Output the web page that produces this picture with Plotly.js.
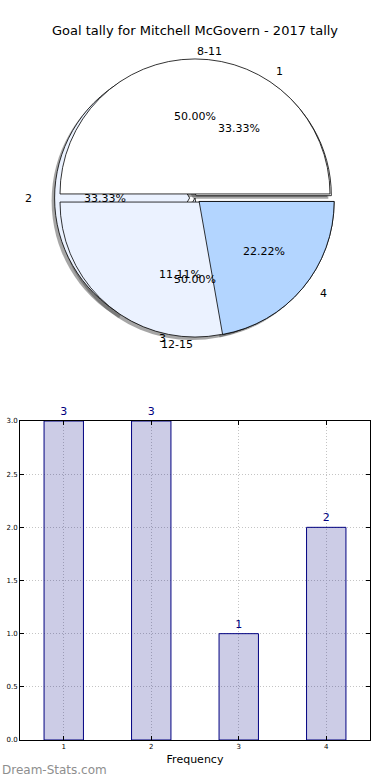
<!DOCTYPE html>
<html>
<head>
<meta charset="utf-8">
<script src="https://cdn.plot.ly/plotly-3.0.1.min.js"></script>
<style>html,body{margin:0;padding:0;background:#fff;}#chart{width:390px;height:780px;}</style>
</head>
<body>
<div id="chart"></div>
<script>
// ---- data ----
const chartTitle = 'Goal tally for Mitchell McGovern - 2017 tally';
const ageLabels = ['8-11', '12-15'];
const ageValues = [1, 1];
const ageExplode = [0.03, 0.03];
const goalLabels = ['1', '2', '3', '4'];
const goalValues = [3, 3, 1, 2];
const goalExplode = [0.02, 0.04, 0, 0.04];
const barCategories = [1, 2, 3, 4];
const barValues = [3, 3, 1, 2];
const yTickVals = [0, 0.5, 1, 1.5, 2, 2.5, 3];
const yTickText = ['0.0', '0.5', '1.0', '1.5', '2.0', '2.5', '3.0'];
const xAxisTitle = 'Frequency';
const watermark = 'Dream-Stats.com';

// ---- geometry / style ----
const W = 390, H = 780;
const pieCX = 195, pieCY = 198, pieR = 135;
const RX = 141, RY = 130;
const FONT = 'DejaVu Sans, Liberation Sans, sans-serif';
const WHITE = '#ffffff', LIGHT = '#ebf2ff', BLUE = '#b3d5ff';
const CLEAR = 'rgba(0,0,0,0)';
const SHADOW = 'rgba(77,77,77,0.5)';

function pieTrace(labels, values, pulls, colors, lineColors, offX, offY) {
  const maxPull = Math.max.apply(null, pulls);
  const rmax = pieR * (1 + maxPull);
  const cx = pieCX + offX, cy = pieCY + offY;
  const total = values.reduce((a, b) => a + b, 0);
  // first slice starts at 3 o'clock and runs counterclockwise (matplotlib convention)
  const rot = 90 - 360 * values[0] / total;
  return {
    type: 'pie', labels: labels, values: values, pull: pulls,
    sort: false, direction: 'counterclockwise', rotation: rot,
    textinfo: 'none', hoverinfo: 'skip', showlegend: false,
    marker: {colors: colors, line: {color: lineColors, width: 0.8}},
    domain: {x: [(cx - rmax) / W, (cx + rmax) / W], y: [1 - (cy + rmax) / H, 1 - (cy - rmax) / H]}
  };
}

function pieTexts(labels, values, explode) {
  const total = values.reduce((a, b) => a + b, 0);
  const out = [];
  let t1 = 0;
  values.forEach((v, i) => {
    const frac = v / total;
    const t2 = t1 + 360 * frac;
    const thm = 2 * Math.PI * 0.5 * (t1 + t2) / 360;
    const e = explode[i];
    const c = Math.cos(thm), s = Math.sin(thm);
    const xl = pieCX + (1.1 + e) * RX * c, yl = pieCY - (1.1 + e) * RY * s;
    const xp = pieCX + (0.6 + e) * RX * c, yp = pieCY - (0.6 + e) * RY * s;
    out.push({text: labels[i], x: xl / W, y: 1 - yl / H, xref: 'paper', yref: 'paper',
      xanchor: ((e + 1.1) * c) > 0 ? 'left' : 'right', yanchor: 'middle', showarrow: false,
      font: {family: FONT, size: 11, color: '#000'}});
    out.push({text: (100 * frac).toFixed(2) + '%', x: xp / W, y: 1 - yp / H, xref: 'paper', yref: 'paper',
      xanchor: 'center', yanchor: 'middle', showarrow: false,
      font: {family: FONT, size: 11, color: '#000'}});
    t1 = t2;
  });
  return out;
}

const traces = [
  pieTrace(goalLabels, goalValues, goalExplode, goalLabels.map(() => SHADOW), goalLabels.map(() => CLEAR), -3, 3),
  pieTrace(ageLabels, ageValues, ageExplode, ageLabels.map(() => SHADOW), ageLabels.map(() => CLEAR), -3, 3),
  pieTrace(goalLabels, goalValues, goalExplode, [WHITE, LIGHT, LIGHT, BLUE], goalLabels.map(() => '#000'), 0, 0),
  pieTrace(ageLabels, ageValues, ageExplode, [WHITE, LIGHT], ageLabels.map(() => '#000'), 0, 0),
  pieTrace(goalLabels, goalValues, goalExplode, [CLEAR, CLEAR, CLEAR, BLUE], [CLEAR, CLEAR, CLEAR, '#000'], 0, 0),
  {
    type: 'bar', x: barCategories, y: barValues, width: 0.45,
    marker: {color: 'rgba(0,0,128,0.2)', line: {color: '#000080', width: 1}},
    text: barValues.map(String), textposition: 'outside', cliponaxis: false,
    textfont: {family: FONT, size: 11, color: '#000080'},
    hoverinfo: 'skip', showlegend: false, xaxis: 'x', yaxis: 'y'
  }
];

const annotations = pieTexts(ageLabels, ageValues, ageExplode)
  .concat(pieTexts(goalLabels, goalValues, goalExplode))
  .concat([{text: watermark, x: 0, y: 1 - 770 / H, xref: 'paper', yref: 'paper', xanchor: 'left', yanchor: 'middle',
    showarrow: false, font: {family: FONT, size: 12, color: '#8e8e8e'}}]);

const axisCommon = {
  showline: true, linecolor: '#000', linewidth: 1, mirror: 'ticks',
  ticks: 'inside', ticklen: 4, tickcolor: '#000', tickwidth: 1,
  showgrid: true, gridcolor: '#c4c4c4', griddash: '1px,2px', gridwidth: 1,
  zeroline: false, tickfont: {family: FONT, size: 7, color: '#000'}, fixedrange: true
};

const layout = {
  width: W, height: H, margin: {l: 0, r: 0, t: 0, b: 0},
  paper_bgcolor: '#fff', plot_bgcolor: '#fff',
  title: {text: chartTitle, x: 0.5, xanchor: 'center', xref: 'paper', y: 1 - 30 / H, yanchor: 'middle', yref: 'paper',
    font: {family: FONT, size: 13, color: '#000'}},
  xaxis: Object.assign({}, axisCommon, {domain: [20 / W, 370 / W], range: [0.5, 4.5], tickvals: barCategories,
    title: {text: xAxisTitle, font: {family: FONT, size: 11, color: '#000'}, standoff: 4}}),
  yaxis: Object.assign({}, axisCommon, {domain: [40 / H, 359 / H], range: [0, 3], tickvals: yTickVals, ticktext: yTickText}),
  annotations: annotations,
  showlegend: false
};

Plotly.newPlot('chart', traces, layout, {displayModeBar: false, staticPlot: true});
</script>
</body>
</html>
